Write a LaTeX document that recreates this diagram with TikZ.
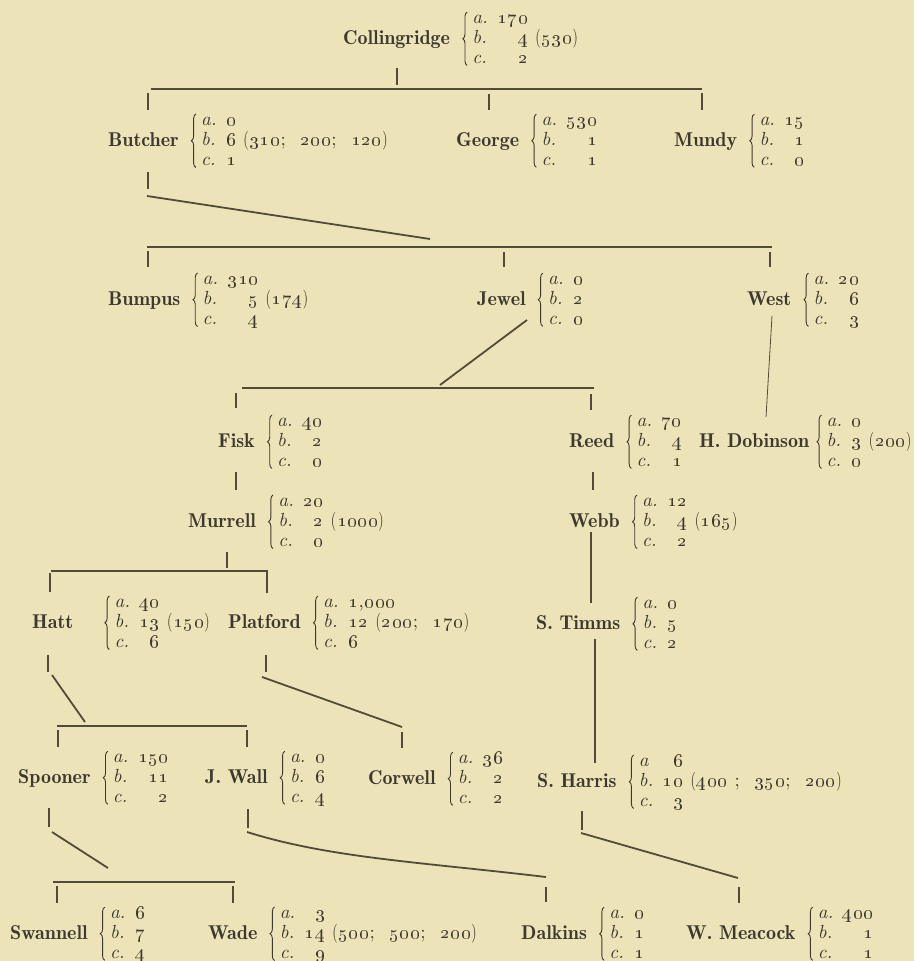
\documentclass[tikz,border=0pt]{standalone}
\usepackage{graphicx}
\usetikzlibrary{decorations.pathreplacing}
\definecolor{paper}{RGB}{236,228,184}
\definecolor{ink}{RGB}{62,57,46}
\definecolor{lineink}{RGB}{82,75,58}
\makeatletter
\def\dsend{}
\newcommand\narrowch[1]{\scalebox{0.72}[1]{#1}}
\newcommand\ds[1]{\ds@loop#1\dsend}
\def\ds@loop#1{\ifx\dsend#1\else\ds@char#1\expandafter\ds@loop\fi}
\def\ds@char#1{\ifx~#1\hspace{0.36em}\else
  \ifx(#1\narrowch{(}\else\ifx)#1\narrowch{)}\else
  \ifnum`#1>47 \ifnum`#1<58 \oldstylenums{#1}\else#1\fi\else#1\fi\fi\fi\kern0.45pt\fi}
\makeatother
\newcommand\entfont{\fontseries{m}\fontsize{10}{10.5}\selectfont}
\newcommand\rA[1]{\textit{a.}&\ds{#1}&\\}
\newcommand\rAn[1]{\textit{a}&\ds{#1}&\\}
\newcommand\rB[2]{\textit{b.}&\ds{#1}&\ds{#2}\\}
\newcommand\rC[1]{\textit{c.}&\ds{#1}&}
% person: [gap]{id}{position}{name}{column type}{rows}
\newcommand\person[6][22]{%
  \node[pname] (#2) at (#3) {#4};
  \node[pent] (#2e) at ([xshift=#1pt]#2.base east)
    {\scalebox{1.9}{\begin{tabular}{@{}l@{\hspace{5pt}}#5@{}l@{}}#6\end{tabular}}};
  \draw[pbrace] ([xshift=-5pt,yshift=4pt]#2e.south west) -- ([xshift=-5pt,yshift=-3pt]#2e.north west);
}
\begin{document}
\begin{tikzpicture}[x=1pt,y=-1pt,
  pname/.style={anchor=base west, inner sep=0pt, text=ink, font=\fontseries{b}\fontsize{20}{24}\selectfont},
  pent/.style={anchor=base west, inner sep=0pt, text=ink, font=\entfont},
  pbrace/.style={draw=ink, line width=0.9pt, decorate, decoration={brace, amplitude=4.5pt, aspect=0.5}},
  tick/.style={draw=lineink, line width=1.4pt},
  bar/.style={draw=lineink, line width=2.4pt},
  slant/.style={draw=lineink, line width=1.8pt},
  faint/.style={draw=lineink, line width=0.8pt}]
\fill[paper] (0,0) rectangle (914,961);
\useasboundingbox (0,0) rectangle (914,961);

% ---------- persons ----------
\person{collingridge}{343,44}{Collingridge}{r}{\rA{170}\rB{4}{~(530)}\rC{2}}
\person{butcher}{108,146}{Butcher}{r}{\rA{0}\rB{6}{~(310;~~200;~~120)}\rC{1}}
\person{george}{456,146}{George}{r}{\rA{530}\rB{1}{}\rC{1}}
\person{mundy}{674,146}{Mundy}{r}{\rA{15}\rB{1}{}\rC{0}}
\person{bumpus}{108,305}{Bumpus}{r}{\rA{310}\rB{5}{~(174)}\rC{4}}
\person{jewel}{477,305}{Jewel}{r}{\rA{0}\rB{2}{}\rC{0}}
\person{west}{747,305}{West}{r}{\rA{20}\rB{6}{}\rC{3}}
\person{fisk}{218,447}{Fisk}{r}{\rA{40}\rB{2}{}\rC{0}}
\person{reed}{569,447}{Reed}{r}{\rA{70}\rB{4}{}\rC{1}}
\person[17]{dobinson}{699,447}{H. Dobinson}{r}{\rA{0}\rB{3}{~(200)}\rC{0}}
\person{murrell}{188,527}{Murrell}{r}{\rA{20}\rB{2}{~(1000)}\rC{0}}
\person{webb}{569,527}{Webb}{r}{\rA{12}\rB{4}{~(165)}\rC{2}}
\person[41]{hatt}{32,628}{Hatt}{r}{\rA{40}\rB{13}{~(150)}\rC{6}}
\person{platford}{228,628}{Platford}{l}{\rA{1,000}\rB{12~(200;~~170)}{}\rC{6}}
\person{timms}{536,629}{S. Timms}{r}{\rA{0}\rB{5}{}\rC{2}}
\person{spooner}{18,783}{Spooner}{r}{\rA{150}\rB{11}{}\rC{2}}
\person{wall}{205,783}{J. Wall}{r}{\rA{0}\rB{6}{}\rC{4}}
\person{corwell}{368,784}{Corwell}{r}{\rA{36}\rB{2}{}\rC{2}}
\person{harris}{537,787}{S. Harris}{r}{\rAn{6}\rB{10}{~(400~;~~350;~~200)}\rC{3}}
\person{swannell}{10,939}{Swannell}{r}{\rA{6}\rB{7}{}\rC{4}}
\person{wade}{208,939}{Wade}{r}{\rA{3}\rB{14}{~(500;~~500;~~200)}\rC{9}}
\person{dalkins}{521,939}{Dalkins}{r}{\rA{0}\rB{1}{}\rC{1}}
\person{meacock}{686,939}{W. Meacock}{r}{\rA{400}\rB{1}{}\rC{1}}

% ---------- connector points ----------
\coordinate (colA) at (397,68);  \coordinate (colB) at (397,85);
\coordinate (bar1L) at (151,89); \coordinate (bar1R) at (702,89);
\coordinate (butA) at (148,93);  \coordinate (butB) at (148,110);
\coordinate (geoA) at (489,94);  \coordinate (geoB) at (489,110);
\coordinate (munA) at (702,93);  \coordinate (munB) at (702,110);
\coordinate (butC) at (148,172); \coordinate (butD) at (148,189);
\coordinate (butE) at (147,196); \coordinate (butF) at (430,239);
\coordinate (bar2L) at (147,247); \coordinate (bar2R) at (772,247);
\coordinate (bumA) at (148,251); \coordinate (bumB) at (148,267);
\coordinate (jewA) at (504,252); \coordinate (jewB) at (504,267);
\coordinate (wesA) at (770,252); \coordinate (wesB) at (770,267);
\coordinate (jewC) at (527,320); \coordinate (jewD) at (440,385);
\coordinate (wesC) at (772,316); \coordinate (wesD) at (766,417);
\coordinate (bar3L) at (242,388); \coordinate (bar3R) at (594,388);
\coordinate (fisA) at (236,393); \coordinate (fisB) at (236,408);
\coordinate (reeA) at (591,394); \coordinate (reeB) at (591,410);
\coordinate (fisC) at (236,472); \coordinate (fisD) at (236,490);
\coordinate (reeC) at (593,472); \coordinate (reeD) at (593,490);
\coordinate (murA) at (227,552); \coordinate (murB) at (227,568);
\coordinate (bar4L) at (51,571); \coordinate (bar4R) at (268,571);
\coordinate (hatA) at (50,573);  \coordinate (hatB) at (50,592);
\coordinate (plaA) at (267,571); \coordinate (plaB) at (267,593);
\coordinate (webA) at (591,532); \coordinate (webB) at (591,603);
\coordinate (hatC) at (48,655);  \coordinate (hatD) at (48,672);
\coordinate (hatE) at (52,675);  \coordinate (hatF) at (85,722);
\coordinate (bar5L) at (57,726); \coordinate (bar5R) at (247,726);
\coordinate (spoA) at (58,730);  \coordinate (spoB) at (58,747);
\coordinate (walA) at (247,730); \coordinate (walB) at (247,747);
\coordinate (plaC) at (266,655); \coordinate (plaD) at (266,672);
\coordinate (plaE) at (262,677); \coordinate (plaF) at (402,727);
\coordinate (corA) at (402,732); \coordinate (corB) at (402,748);
\coordinate (timA) at (595,639); \coordinate (timB) at (595,763);
\coordinate (spoC) at (49,808);  \coordinate (spoD) at (49,827);
\coordinate (spoE) at (52,832);  \coordinate (spoF) at (108,868);
\coordinate (bar6L) at (53,882); \coordinate (bar6R) at (235,882);
\coordinate (swaA) at (57,886);  \coordinate (swaB) at (57,903);
\coordinate (wadA) at (233,886); \coordinate (wadB) at (233,903);
\coordinate (walC) at (248,809); \coordinate (walD) at (248,828);
\coordinate (walE) at (247,832); \coordinate (walF) at (546,877);
\coordinate (dalA) at (546,887); \coordinate (dalB) at (546,902);
\coordinate (harA) at (582,811); \coordinate (harB) at (582,830);
\coordinate (harC) at (581,833); \coordinate (harD) at (738,878);
\coordinate (meaA) at (739,887); \coordinate (meaB) at (739,903);

% ---------- connectors ----------
\draw[tick] (colA) -- (colB);
\draw[bar] (bar1L) -- (bar1R);
\draw[tick] (butA) -- (butB);
\draw[tick] (geoA) -- (geoB);
\draw[tick] (munA) -- (munB);
\draw[tick] (butC) -- (butD);
\draw[slant] (butE) -- (butF);
\draw[bar] (bar2L) -- (bar2R);
\draw[tick] (bumA) -- (bumB);
\draw[tick] (jewA) -- (jewB);
\draw[tick] (wesA) -- (wesB);
\draw[slant] (jewC) -- (jewD);
\draw[faint] (wesC) -- (wesD);
\draw[bar] (bar3L) -- (bar3R);
\draw[tick] (fisA) -- (fisB);
\draw[tick] (reeA) -- (reeB);
\draw[slant] (fisC) -- (fisD);
\draw[tick] (reeC) -- (reeD);
\draw[tick] (murA) -- (murB);
\draw[bar] (bar4L) -- (bar4R);
\draw[tick] (hatA) -- (hatB);
\draw[tick] (plaA) -- (plaB);
\draw[slant] (webA) -- (webB);
\draw[tick] (hatC) -- (hatD);
\draw[slant] (hatE) -- (hatF);
\draw[bar] (bar5L) -- (bar5R);
\draw[tick] (spoA) -- (spoB);
\draw[tick] (walA) -- (walB);
\draw[tick] (plaC) -- (plaD);
\draw[slant] (plaE) -- (plaF);
\draw[tick] (corA) -- (corB);
\draw[tick] (timA) -- (timB);
\draw[tick] (spoC) -- (spoD);
\draw[slant] (spoE) -- (spoF);
\draw[bar] (bar6L) -- (bar6R);
\draw[tick] (swaA) -- (swaB);
\draw[tick] (wadA) -- (wadB);
\draw[tick] (walC) -- (walD);
\draw[slant] (walE) .. controls (330,858) and (420,862) .. (walF);
\draw[tick] (dalA) -- (dalB);
\draw[tick] (harA) -- (harB);
\draw[slant] (harC) -- (harD);
\draw[tick] (meaA) -- (meaB);
\end{tikzpicture}
\end{document}
